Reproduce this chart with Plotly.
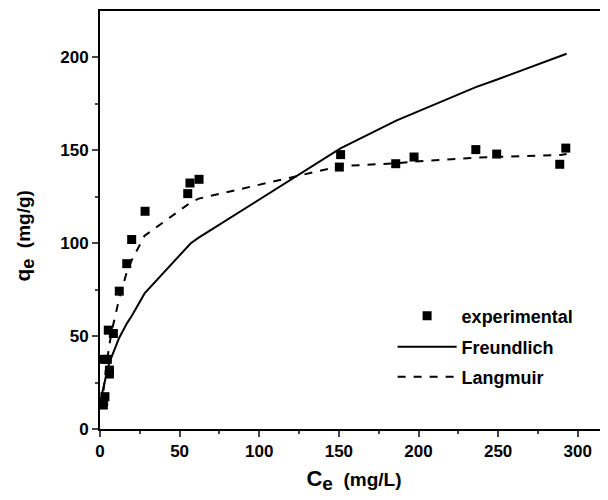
import plotly.graph_objects as go

# Experimental data
ce_exp = [2.1, 2.3, 3.1, 2.5, 4.6, 5.9, 5.9, 5.2, 8.4, 12.1, 16.8, 19.9, 28.3,
          55.1, 56.5, 62.2, 150.3, 151.1, 185.7, 197.2, 236.0, 249.1, 288.7, 292.5]
qe_exp = [12.9, 14.9, 17.4, 37.5, 37.5, 31.7, 29.6, 53.2, 51.4, 74.2, 89.0, 102.0, 117.2,
          126.7, 132.4, 134.4, 141.0, 147.7, 142.8, 146.4, 150.4, 148.0, 142.5, 151.2]

# Model curves
ce_model = [1, 2, 3, 5, 6, 8, 12, 17, 20, 28, 55, 57, 62, 150, 151, 186, 197, 236, 249, 289, 293]
q_freundlich = [18, 22, 26, 33, 36, 40, 49, 57, 61, 73, 98, 100, 103, 150, 151, 166, 170, 184, 188, 201, 202]
q_langmuir = [12, 20, 27, 40, 46, 55, 70, 85, 91, 104, 121, 122, 124, 141, 141.5, 143, 144, 146, 146.5, 147.5, 148]

x_ticks = [0, 50, 100, 150, 200, 250, 300]
y_ticks = [0, 50, 100, 150, 200]

FONT = "Liberation Sans, Arial, sans-serif"

fig = go.Figure()
fig.add_trace(go.Scatter(x=ce_exp, y=qe_exp, mode="markers", name="experimental",
                         marker=dict(symbol="square", size=9, color="black"),
                         legend="legend"))
fig.add_trace(go.Scatter(x=ce_model, y=q_freundlich, mode="lines", name="Freundlich",
                         line=dict(color="black", width=2, dash="solid"),
                         legend="legend2"))
fig.add_trace(go.Scatter(x=ce_model, y=q_langmuir, mode="lines", name="Langmuir",
                         line=dict(color="black", width=2, dash="8px,8px"),
                         legend="legend3"))

leg_common = dict(xanchor="left", yanchor="middle", bgcolor="rgba(0,0,0,0)",
                  font=dict(size=18, weight="bold"), itemwidth=59)
# page has an 8px body margin; plot area on screen: y 11..429, x 100..608
def ypos(py):
    return (429 - py) / 418.0

fig.update_layout(
    width=600, height=492,
    margin=dict(l=92, r=0, t=3, b=71),
    paper_bgcolor="white", plot_bgcolor="white",
    font=dict(family=FONT, size=16, color="black", weight="bold"),
    showlegend=True,
    legend=dict(x=0.576, y=ypos(316), **leg_common),
    legend2=dict(x=0.576, y=ypos(347), **leg_common),
    legend3=dict(x=0.576, y=ypos(377), **leg_common),
    xaxis=dict(range=[0, 319], tickvals=x_ticks, ticks="outside", ticklen=6, tickwidth=2,
               showline=True, linewidth=2, linecolor="black", mirror=True,
               showgrid=False, zeroline=False, automargin=False,
               tickfont=dict(size=17),
               minor=dict(tickvals=[25, 75, 125, 175, 225, 275], ticks="outside", ticklen=3, tickwidth=1.5),
               title=dict(text="<span style='font-size:22px'>C</span><sub><span style='font-size:19px'>e</span></sub>"
                               "<span style='font-size:19px'>&nbsp;&nbsp;(mg/L)</span>",
                          font=dict(size=19, weight="bold"), standoff=12)),
    yaxis=dict(range=[0, 225], tickvals=y_ticks, ticks="outside", ticklen=6, tickwidth=2,
               showline=True, linewidth=2, linecolor="black", mirror=False,
               showgrid=False, zeroline=False, automargin=False,
               tickfont=dict(size=17),
               minor=dict(tickvals=[25, 75, 125, 175], ticks="outside", ticklen=3, tickwidth=1.5),
               title=dict(text="<span style='font-size:21px'>q</span><sub><span style='font-size:18px'>e</span></sub>"
                               "<span style='font-size:19px'>&nbsp;&nbsp;(mg/g)&nbsp;&nbsp;&nbsp;&nbsp;&nbsp;&nbsp;</span>",
                          font=dict(size=19, weight="bold"), standoff=25)),
)

fig.write_html("out.html")
